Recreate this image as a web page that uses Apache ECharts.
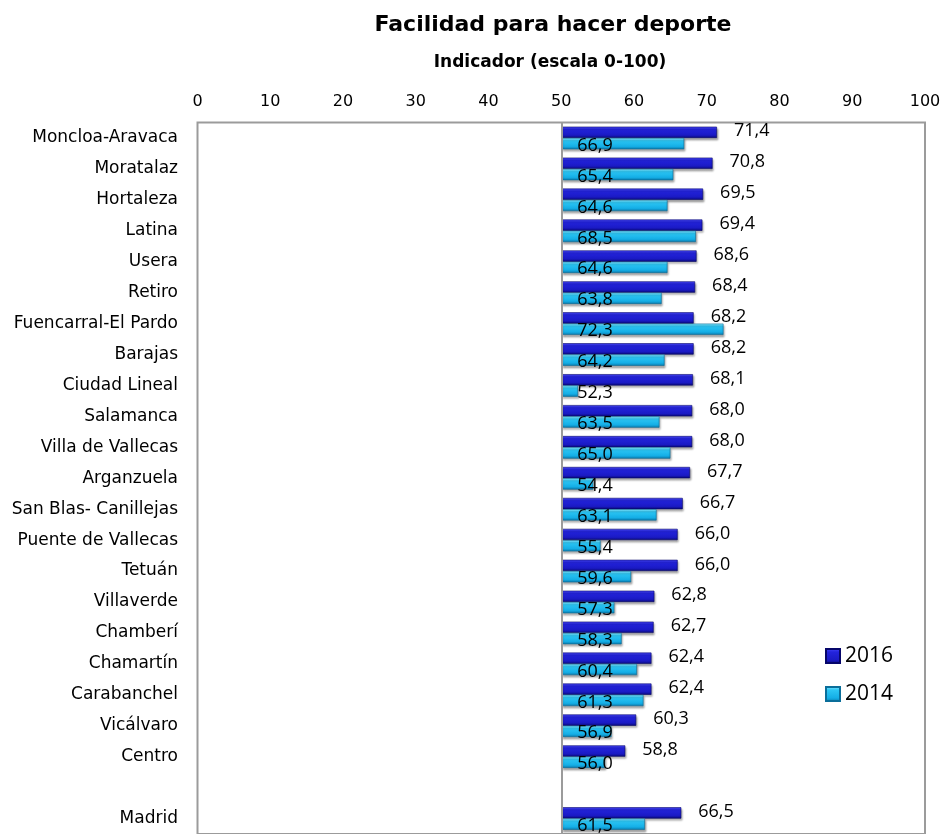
<!DOCTYPE html>
<html>
<head>
<meta charset="utf-8">
<script src="https://cdn.jsdelivr.net/npm/echarts@6/dist/echarts.min.js"></script>
<style>
html,body{margin:0;padding:0;background:#fff;}
#chart{width:944px;height:834px;}
</style>
</head>
<body>
<div id="chart"></div>
<script>
// ---- data ----
var categories = ['Moncloa-Aravaca','Moratalaz','Hortaleza','Latina','Usera','Retiro','Fuencarral-El Pardo','Barajas','Ciudad Lineal','Salamanca','Villa de Vallecas','Arganzuela','San Blas- Canillejas','Puente de Vallecas','Tetuán','Villaverde','Chamberí','Chamartín','Carabanchel','Vicálvaro','Centro','','Madrid'];
var values2016 = [71.4,70.8,69.5,69.4,68.6,68.4,68.2,68.2,68.1,68.0,68.0,67.7,66.7,66.0,66.0,62.8,62.7,62.4,62.4,60.3,58.8,null,66.5];
var values2014 = [66.9,65.4,64.6,68.5,64.6,63.8,72.3,64.2,52.3,63.5,65.0,54.4,63.1,55.4,59.6,57.3,58.3,60.4,61.3,56.9,56.0,null,61.5];
var xTicks = [0,10,20,30,40,50,60,70,80,90,100];
var baseValue = 50;
var seriesNames = ['2016','2014'];

// ---- build ----
function baseArr(vals){ return vals.map(function(v){ return v == null ? null : baseValue; }); }
function diffArr(vals){ return vals.map(function(v){ return v == null ? null : +(v - baseValue).toFixed(2); }); }
function fmt(vals){ return function(p){ var v = vals[p.dataIndex]; return v == null ? '' : v.toFixed(1).replace('.', ','); }; }

var grad2016 = new echarts.graphic.LinearGradient(0,0,0,1,[
  {offset:0,color:'#4a4aff'},{offset:0.25,color:'#2323dc'},{offset:0.75,color:'#1a1ac4'},{offset:1,color:'#0a0a78'}]);
var grad2014 = new echarts.graphic.LinearGradient(0,0,0,1,[
  {offset:0,color:'#8eeaff'},{offset:0.25,color:'#2cc6f4'},{offset:0.75,color:'#14aee6'},{offset:1,color:'#0a78aa'}]);

var chart = echarts.init(document.getElementById('chart'), null, {renderer:'canvas'});
var labelFont = '"Open Sans", sans-serif';
var axisFont = '"DejaVu Sans", sans-serif';

var option = {
  animation: false,
  backgroundColor: '#fff',
  title: [
    {text:'Facilidad para hacer deporte', left:548, top:7, textAlign:'center',
     textStyle:{fontFamily:axisFont, fontSize:22, lineHeight:26, fontWeight:'bold', color:'#000'}},
    {text:'Indicador (escala 0-100)', left:545, top:48, textAlign:'center',
     textStyle:{fontFamily:axisFont, fontSize:17, lineHeight:20, fontWeight:'bold', color:'#000'}}
  ],
  legend: {
    data: seriesNames, orient:'vertical', left:825, top:645.5, padding:0,
    itemWidth:14, itemHeight:14, itemGap:17,
    icon:'rect',
    textStyle:{fontFamily:labelFont, fontSize:21, color:'#000', lineHeight:21}
  },
  grid: {left:197.5, top:122.5, width:727.5, height:715, show:true, borderColor:'#9b9b9b', borderWidth:2, backgroundColor:'transparent'},
  xAxis: {
    type:'value', position:'top', min:xTicks[0], max:xTicks[xTicks.length-1], interval:10,
    splitLine:{show:false}, axisLine:{show:false}, axisTick:{show:false},
    axisLabel:{margin:13, fontFamily:axisFont, fontSize:16, color:'#000'}
  },
  yAxis: {
    type:'category', inverse:true, data:categories,
    axisLine:{show:false}, axisTick:{show:false}, splitLine:{show:false},
    axisLabel:{margin:19.5, fontFamily:axisFont, fontSize:17, color:'#000'}
  },
  series: [
    {name:'b16', type:'bar', stack:'s16', data:baseArr(values2016), silent:true,
     itemStyle:{color:'transparent'}, barCategoryGap:'27%', barGap:'0%',
     emphasis:{disabled:true},
     markLine:{silent:true, symbol:'none', label:{show:false}, lineStyle:{color:'#9b9b9b', width:2, type:'solid'}, data:[{xAxis:baseValue}], z:5}
    },
    {name:'2016', type:'bar', stack:'s16', data:diffArr(values2016),
     itemStyle:{color:grad2016, borderColor:'#06066a', borderWidth:0.6, shadowColor:'rgba(0,0,0,0.35)', shadowBlur:2, shadowOffsetX:1, shadowOffsetY:2},
     label:{show:true, position:'right', distance:17, offset:[0,-1], formatter:fmt(values2016), fontFamily:labelFont, fontSize:18, color:'#000'}
    },
    {name:'b14', type:'bar', stack:'s14', data:baseArr(values2014), silent:true,
     itemStyle:{color:'transparent'}, emphasis:{disabled:true}},
    {name:'2014', type:'bar', stack:'s14', data:diffArr(values2014),
     itemStyle:{color:grad2014, borderColor:'#0a6e9a', borderWidth:0.6, shadowColor:'rgba(0,0,0,0.35)', shadowBlur:2, shadowOffsetX:1, shadowOffsetY:2},
     label:{show:true, position:'insideLeft', distance:16, offset:[0,2], formatter:fmt(values2014), fontFamily:labelFont, fontSize:18, color:'#000', textBorderWidth:0}
    }
  ]
};
chart.setOption(option);
</script>
</body>
</html>
